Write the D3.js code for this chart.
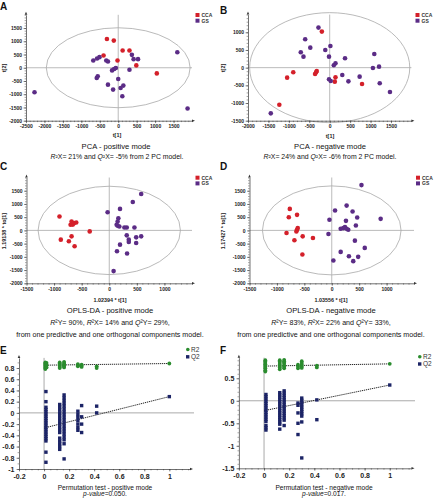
<!DOCTYPE html>
<html><head><meta charset="utf-8">
<script src="https://cdn.jsdelivr.net/npm/d3@7"></script>
<style>body{margin:0;background:#fff}svg{display:block;font-family:"Liberation Sans",Arial,sans-serif}</style>
</head><body><svg id="c" width="438" height="500"></svg>
<script>
// ---------- DATA ----------
const groups = ["CCA", "GS"];
const permSeries = ["R2", "Q2"];
// PCA positive mode: [t1, t2]
const pcaPosCCA = [[-306,1088],[-120,1025],[-398,463],[-19,275],[120,650],[305,650],[490,88],[1046,-213]];
const pcaPosGS = [[-2269,-925],[-676,275],[-574,350],[-509,400],[-324,275],[-278,238],[-167,-100],[-111,-50],[-65,-12],[-583,-388],[-556,-325],[-278,-638],[-139,-825],[0,-425],[65,-763],[139,-675],[111,-1075],[305,-75],[370,488],[417,325],[537,325],[1602,588],[1880,-1538]];
// PCA negative mode
const pcaNegCCA = [[-192,1019],[-317,-94],[-333,-132],[-358,-179],[-892,-132],[-1042,-283],[142,-274],[125,-396],[792,-462],[-1233,-1047]];
const pcaNegGS = [[-275,1132],[-600,802],[-475,566],[-708,434],[-642,311],[-108,500],[17,613],[-17,311],[142,123],[100,66],[375,264],[-17,-330],[25,-377],[308,-208],[458,-387],[733,-255],[1058,-9],[1092,387],[1208,28],[1225,-443],[1475,-689],[-1442,-1292]];
// OPLS-DA positive mode
const oplsPosCCA = [[-902,525],[-878,-350],[-701,212],[-683,338],[-640,275],[-598,300],[-660,220],[-354,-38],[-683,-225],[-732,-412],[-628,-600]];
const oplsPosGS = [[-30,688],[195,812],[427,1075],[579,1375],[165,462],[152,337],[134,212],[152,175],[183,150],[274,112],[317,112],[457,112],[317,-188],[354,-350],[354,-438],[488,-262],[579,-225],[488,-475],[195,-538],[140,-788],[323,-875],[79,-1538]];
// OPLS-DA negative mode
const oplsNegCCA = [[-765,812],[-783,500],[-633,587],[-633,25],[-620,88],[-645,-38],[-825,-100],[-530,-225],[-681,-375],[-343,-287],[-536,-912]];
const oplsNegGS = [[542,1712],[60,750],[271,937],[380,712],[464,487],[892,437],[-42,400],[259,362],[440,187],[163,62],[211,87],[241,125],[271,62],[301,25],[-60,-137],[422,-387],[602,-662],[163,-812],[313,-975],[482,-1000],[392,-1162],[30,-1137]];
// Hotelling ellipse semi-axes [rx, ry] in data units
const ellipses = {A:[1950,1510], B:[1960,1555], C:[1290,1670], D:[1264,1682]};
// Permutation test positive mode: [correlation, value]
const permPosR2 = [[0.01,0.90],[0.01,0.88],[0.01,0.86],[0.01,0.84],[0.01,0.82],[0.01,0.80],[0.01,0.78],[0.02,0.89],[0.02,0.85],[0.02,0.81],
 [0.125,0.90],[0.125,0.88],[0.125,0.86],[0.125,0.84],[0.125,0.82],[0.125,0.80],
 [0.16,0.91],[0.16,0.89],[0.16,0.87],[0.16,0.85],[0.16,0.83],[0.16,0.81],
 [0.27,0.87],[0.27,0.85],[0.27,0.83],[0.30,0.86],[0.30,0.84],[0.30,0.82],[0.42,0.83],[0.42,0.80],[1,0.88]];
const permPosQ2 = [[0.015,0.38],[0.015,0.20],[0.015,0.10],[0.015,0.06],[0.015,0.02],[0.015,-0.02],[0.015,-0.06],[0.015,-0.10],[0.015,-0.14],[0.015,-0.18],[0.015,-0.22],[0.015,-0.26],[0.015,-0.30],[0.015,-0.34],[0.015,-0.38],[0.015,-0.42],[0.015,-0.46],[0.015,-0.50],[0.015,-0.70],[0.015,-0.88],
 [0.125,0.15],[0.125,0.10],[0.125,0.05],[0.125,0.00],[0.125,-0.05],[0.125,-0.10],[0.125,-0.15],[0.125,-0.20],[0.125,-0.25],[0.125,-0.30],[0.125,-0.35],[0.125,-0.45],[0.125,-0.50],[0.125,-0.55],[0.125,-0.60],[0.125,-0.65],
 [0.16,0.32],[0.16,0.27],[0.16,0.22],[0.16,0.17],[0.16,0.12],[0.16,0.07],[0.16,0.02],[0.16,-0.03],[0.16,-0.08],[0.16,-0.13],[0.16,-0.18],[0.16,-0.23],[0.16,-0.28],[0.16,-0.33],[0.16,-0.38],[0.16,-0.43],[0.16,-0.48],[0.16,-0.55],[0.16,-0.82],
 [0.27,0.03],[0.27,-0.03],[0.27,-0.08],[0.27,-0.14],[0.27,-0.20],[0.27,-0.26],[0.27,-0.31],
 [0.30,0.13],[0.30,-0.07],[0.30,-0.20],[0.30,-0.35],[0.42,0.12],[0.42,0.00],[1,0.29]];
const permPosLineR2 = [[0,0.85],[1,0.88]];
const permPosLineQ2 = [[0,-0.27],[1,0.29]];
// Permutation test negative mode
const permNegR2 = [[0.01,0.90],[0.01,0.87],[0.01,0.84],[0.01,0.81],[0.01,0.78],[0.01,0.75],[0.01,0.72],[0.01,0.68],[0.01,0.65],
 [0.125,0.90],[0.125,0.87],[0.125,0.84],[0.125,0.80],[0.125,0.77],[0.125,0.74],[0.125,0.70],
 [0.16,0.91],[0.16,0.88],[0.16,0.85],[0.16,0.82],[0.16,0.78],[0.16,0.75],[0.16,0.72],
 [0.27,0.80],[0.27,0.76],[0.27,0.72],[0.30,0.88],[0.30,0.84],[0.30,0.80],[0.30,0.76],[0.30,0.73],[0.42,0.78],[0.42,0.74],[1,0.82]];
const permNegQ2 = [[0.015,0.14],[0.015,0.09],[0.015,0.04],[0.015,-0.01],[0.015,-0.06],[0.015,-0.11],[0.015,-0.16],[0.015,-0.21],[0.015,-0.26],[0.015,-0.31],[0.015,-0.36],[0.015,-0.41],[0.015,-0.46],[0.015,-0.55],[0.015,-0.60],[0.015,-0.65],
 [0.125,0.18],[0.125,0.13],[0.125,0.08],[0.125,0.03],[0.125,-0.02],[0.125,-0.07],[0.125,-0.12],[0.125,-0.17],[0.125,-0.22],[0.125,-0.27],[0.125,-0.32],[0.125,-0.37],[0.125,-0.42],[0.125,-0.47],[0.125,-0.52],[0.125,-0.63],
 [0.16,0.22],[0.16,0.17],[0.16,0.12],[0.16,0.07],[0.16,0.02],[0.16,-0.03],[0.16,-0.08],[0.16,-0.13],[0.16,-0.18],[0.16,-0.23],[0.16,-0.28],[0.16,-0.33],[0.16,-0.38],[0.16,-0.43],[0.16,-0.55],
 [0.27,-0.05],[0.27,-0.10],[0.27,-0.27],[0.27,-0.50],[0.27,-0.75],
 [0.30,0.06],[0.30,0.01],[0.30,-0.04],[0.30,-0.09],[0.30,-0.14],[0.30,-0.19],[0.30,-0.24],[0.30,-0.29],[0.30,-0.34],[0.30,-0.47],[0.30,-1.27],
 [0.42,0.02],[0.42,-0.42],[1,0.35]];
const permNegLineR2 = [[0,0.77],[1,0.82]];
const permNegLineQ2 = [[0,-0.22],[1,0.35]];
// tick values
const ticksA_x = [-2500,-2000,-1500,-1000,-500,0,500,1000,1500];
const ticksA_y = [-2000,-1500,-1000,-500,0,500,1000,1500];
const ticksB_x = [-2000,-1500,-1000,-500,0,500,1000,1500];
const ticksB_y = [-1500,-1000,-500,0,500,1000];
const ticksCD_x = [-1500,-1000,-500,0,500,1000];
const ticksCD_y = [-2000,-1500,-1000,-500,0,500,1000,1500];
const ticksE_x = [-0.2,0,0.2,0.4,0.6,0.8,1];
const ticksE_y = [-1,-0.8,-0.6,-0.4,-0.2,0,0.2,0.4,0.6,0.8];
const ticksF_y = [-1.5,-1,-0.5,0,0.5];

// ---------- STYLE ----------
const COL = {CCA:"#d4202a", GS:"#5b2c86", R2:"#2a8c2e", Q2:"#1c2466"};
const svg = d3.select("#c");
const fmt = d => String(+d.toFixed(4));

function range(a,b,s){const r=[];for(let v=a;v<=b+1e-9;v+=s)r.push(+v.toFixed(4));return r;}

function axes(g, x, y, o){
  const yb = y.range()[0], xl = x.range()[0];
  const xe = x.range()[1], yt = y.range()[1];
  g.append("g").attr("transform",`translate(0,${yb})`)
    .call(d3.axisBottom(x).tickValues(o.xMinor).tickSize(1.4).tickSizeOuter(0).tickFormat(""))
    .call(s=>s.select(".domain").remove()).selectAll("line").attr("stroke","#444").attr("stroke-width",0.5);
  g.append("g").attr("transform",`translate(${xl},0)`)
    .call(d3.axisLeft(y).tickValues(o.yMinor).tickSize(1.4).tickSizeOuter(0).tickFormat(""))
    .call(s=>s.select(".domain").remove()).selectAll("line").attr("stroke","#444").attr("stroke-width",0.5);
  const gx = g.append("g").attr("transform",`translate(0,${yb})`)
    .call(d3.axisBottom(x).tickValues(o.xTicks).tickSize(2.4).tickSizeOuter(0).tickPadding(o.xpad).tickFormat(fmt));
  const gy = g.append("g").attr("transform",`translate(${xl},0)`)
    .call(d3.axisLeft(y).tickValues(o.yTicks).tickSize(2.4).tickSizeOuter(0).tickPadding(o.ypad).tickFormat(fmt));
  [gx,gy].forEach(a=>{
    a.select(".domain").attr("stroke","#333").attr("stroke-width",0.7);
    a.selectAll("line").attr("stroke","#333").attr("stroke-width",0.6);
    a.selectAll("text").attr("font-size",o.fs).attr("font-weight","bold").attr("fill","#222").attr("font-family","Liberation Sans, Arial, sans-serif");
  });
  g.append("path").attr("d",`M${xe},${yb-1.3}L${xe+3},${yb}L${xe},${yb+1.3}Z`).attr("fill","#333");
  g.append("path").attr("d",`M${xl-1.3},${yt}L${xl},${yt-3}L${xl+1.3},${yt}Z`).attr("fill","#333");
}

// parts: plain strings, or {i:"..."} for italic
function rich(g, x, y, parts, size){
  const t = g.append("text").attr("x",x).attr("y",y).attr("text-anchor","middle")
    .attr("font-size",size).attr("fill","#111");
  parts.forEach(p=>{
    if(typeof p==="string") t.append("tspan").text(p);
    else t.append("tspan").attr("font-style","italic").text(p.i);
  });
  return t;
}

function letter(x,y,s){svg.append("text").attr("x",x).attr("y",y).attr("font-size",10).attr("font-weight","bold").attr("fill","#111").text(s);}

function scatterPanel(c){
  const g = svg.append("g");
  const x = d3.scaleLinear().domain(c.xd).range(c.xr);
  const y = d3.scaleLinear().domain(c.yd).range(c.yr);
  g.append("line").attr("x1",x(0)).attr("x2",x(0)).attr("y1",c.yr[1]).attr("y2",c.yr[0]).attr("stroke","#aaa").attr("stroke-width",0.8);
  g.append("line").attr("x1",c.xr[0]).attr("x2",c.xr[1]).attr("y1",y(0)).attr("y2",y(0)).attr("stroke","#aaa").attr("stroke-width",0.8);
  g.append("ellipse").attr("cx",x(0)).attr("cy",y(0))
   .attr("rx",Math.abs(x(c.ell[0])-x(0))).attr("ry",Math.abs(y(c.ell[1])-y(0)))
   .attr("fill","none").attr("stroke","#a8a8a8").attr("stroke-width",0.8);
  axes(g,x,y,{xTicks:c.xTicks,yTicks:c.yTicks,xMinor:range(c.xd[0],c.xd[1],100),yMinor:range(c.yd[0],c.yd[1],100),fs:5,xpad:1.8,ypad:1.6});
  c.series.forEach((s,i)=>{
    g.append("g").selectAll("circle").data(s).join("circle")
      .attr("cx",d=>x(d[0])).attr("cy",d=>y(d[1])).attr("r",2.3).attr("fill",COL[groups[i]]);
  });
  groups.forEach((k,i)=>{
    g.append("rect").attr("x",c.leg[0]).attr("y",c.leg[1]+i*5.7-2).attr("width",4).attr("height",4).attr("fill",COL[k]);
    g.append("text").attr("x",c.leg[0]+6).attr("y",c.leg[1]+i*5.7+1.8).attr("font-size",5).attr("font-weight","bold").attr("fill","#333").text(k);
  });
  g.append("text").attr("x",c.xlab[0]).attr("y",c.xlab[1]).attr("text-anchor","middle").attr("font-size",5.4).attr("font-weight","bold").attr("fill","#222").text(c.xlabel);
  g.append("text").attr("transform",`translate(${c.ylab[0]},${c.ylab[1]}) rotate(-90)`).attr("text-anchor","middle").attr("font-size",5.4).attr("font-weight","bold").attr("fill","#222").text(c.ylabel);
  letter(c.letter[0],c.letter[1],c.letter[2]);
}

function permPanel(c){
  const g = svg.append("g");
  const x = d3.scaleLinear().domain(c.xd).range(c.xr);
  const y = d3.scaleLinear().domain(c.yd).range(c.yr);
  g.append("line").attr("x1",x(0)).attr("x2",x(0)).attr("y1",c.yr[1]).attr("y2",c.yr[0]).attr("stroke","#aaa").attr("stroke-width",1);
  g.append("line").attr("x1",c.xr[0]).attr("x2",c.zeroEnd).attr("y1",y(0)).attr("y2",y(0)).attr("stroke","#aaa").attr("stroke-width",1);
  axes(g,x,y,{xTicks:ticksE_x,yTicks:c.yTicks,xMinor:range(-0.2,1.15,0.05),yMinor:c.yMinor,fs:7,xpad:2.5,ypad:2.2});
  const line = d3.line().x(d=>x(d[0])).y(d=>y(d[1]));
  [c.lR2,c.lQ2].forEach(l=>g.append("path").attr("d",line(l)).attr("fill","none").attr("stroke","#222").attr("stroke-width",1).attr("stroke-dasharray","1.2,0.8"));
  g.append("g").selectAll("rect").data(c.Q2).join("rect")
    .attr("x",d=>x(d[0])-1.7).attr("y",d=>y(d[1])-1.7).attr("width",3.4).attr("height",3.4).attr("fill",COL.Q2);
  g.append("g").selectAll("circle").data(c.R2).join("circle")
    .attr("cx",d=>x(d[0])).attr("cy",d=>y(d[1])).attr("r",1.9).attr("fill",COL.R2);
  g.append("circle").attr("cx",c.leg[0]+1.8).attr("cy",c.leg[1]).attr("r",1.8).attr("fill",COL.R2);
  g.append("rect").attr("x",c.leg[0]).attr("y",c.leg[1]+5.6).attr("width",3.4).attr("height",3.4).attr("fill",COL.Q2);
  permSeries.forEach((k,i)=>g.append("text").attr("x",c.leg[0]+5).attr("y",c.leg[1]+2.4+i*7).attr("font-size",6.5).attr("fill","#333").text(k));
  rich(g,c.tx,c.ty,[c.title],6.6);
  rich(g,c.tx,c.ty+6.4,[{i:"p-value"},c.p],6.6);
  letter(c.letter[0],c.letter[1],c.letter[2]);
}

// ---------- PANELS ----------
scatterPanel({xd:[-2500,2000],xr:[26,192],yd:[-2000,2000],yr:[120.7,14.8],xTicks:ticksA_x,yTicks:ticksA_y,
  ell:ellipses.A,series:[pcaPosCCA,pcaPosGS],leg:[195.5,15],xlab:[117,137.3],xlabel:"t[1]",ylab:[6,68],ylabel:"t[2]",letter:[0,10,"A"]});
rich(svg,116,148.5,["PCA - positive mode"],7.6);
rich(svg,117,158.8,[{i:"R"},"²X= 21% and ",{i:"Q"},"²X=  -5% from 2 PC model."],6.9);

scatterPanel({xd:[-2000,2000],xr:[248,411.4],yd:[-1500,1500],yr:[120.7,14.6],xTicks:ticksB_x,yTicks:ticksB_y,
  ell:ellipses.B,series:[pcaNegCCA,pcaNegGS],leg:[415.5,15],xlab:[330,138.3],xlabel:"t[1]",ylab:[225,68],ylabel:"t[2]",letter:[220,14,"B"]});
rich(svg,330,148.5,["PCA - negative mode"],7.6);
rich(svg,330,158.8,[{i:"R"},"²X= 24% and ",{i:"Q"},"²X= -6% from 2 PC model."],6.9);

scatterPanel({xd:[-1500,1500],xr:[26.5,192],yd:[-2000,2000],yr:[283.3,177.5],xTicks:ticksCD_x,yTicks:ticksCD_y,
  ell:ellipses.C,series:[oplsPosCCA,oplsPosGS],leg:[195.5,177.7],xlab:[110,302],xlabel:"1.02394 * t[1]",ylab:[6,231],ylabel:"1.19138 * to[1]",letter:[0,170,"C"]});
rich(svg,110,313.2,["OPLS-DA - positive mode"],7.6);
rich(svg,110,324.6,[{i:"R"},"²Y= 90%, ",{i:"R"},"²X= 14% and ",{i:"Q"},"²Y= 29%,"],7.1);
rich(svg,110,336.8,["from one predictive and one orthogonal components model."],7.1);

scatterPanel({xd:[-1500,1500],xr:[249.5,414],yd:[-2000,2000],yr:[283.3,177.5],xTicks:ticksCD_x,yTicks:ticksCD_y,
  ell:ellipses.D,series:[oplsNegCCA,oplsNegGS],leg:[416,177.7],xlab:[331,302],xlabel:"1.03556 * t[1]",ylab:[225,231],ylabel:"1.17427 * to[1]",letter:[220,170,"D"]});
rich(svg,331,313.2,["OPLS-DA - negative mode"],7.6);
rich(svg,331,324.6,[{i:"R"},"²Y= 83%, ",{i:"R"},"²X= 22% and ",{i:"Q"},"²Y= 33%,"],7.1);
rich(svg,331,336.8,["from one predictive and one orthogonal components model."],7.1);

permPanel({xd:[-0.2,1.165],xr:[19,190],yd:[-1,0.98],yr:[469,357.9],yTicks:ticksE_y,yMinor:range(-1,0.9,0.1),zeroEnd:194,
  R2:permPosR2,Q2:permPosQ2,lR2:permPosLineR2,lQ2:permPosLineQ2,leg:[186,349.5],
  title:"Permutation test - positive mode",p:"=0.050.",tx:105,ty:489.6,letter:[0,354,"E"]});
permPanel({xd:[-0.2,1.173],xr:[238.9,411.5],yd:[-1.5,0.957],yr:[468.3,357.7],yTicks:ticksF_y,yMinor:range(-1.5,0.9,0.1),zeroEnd:415,
  R2:permNegR2,Q2:permNegQ2,lR2:permNegLineR2,lQ2:permNegLineQ2,leg:[418,356.7],
  title:"Permutation test - negative mode",p:"=0.017.",tx:324,ty:489.6,letter:[220,354,"F"]});
</script></body></html>
